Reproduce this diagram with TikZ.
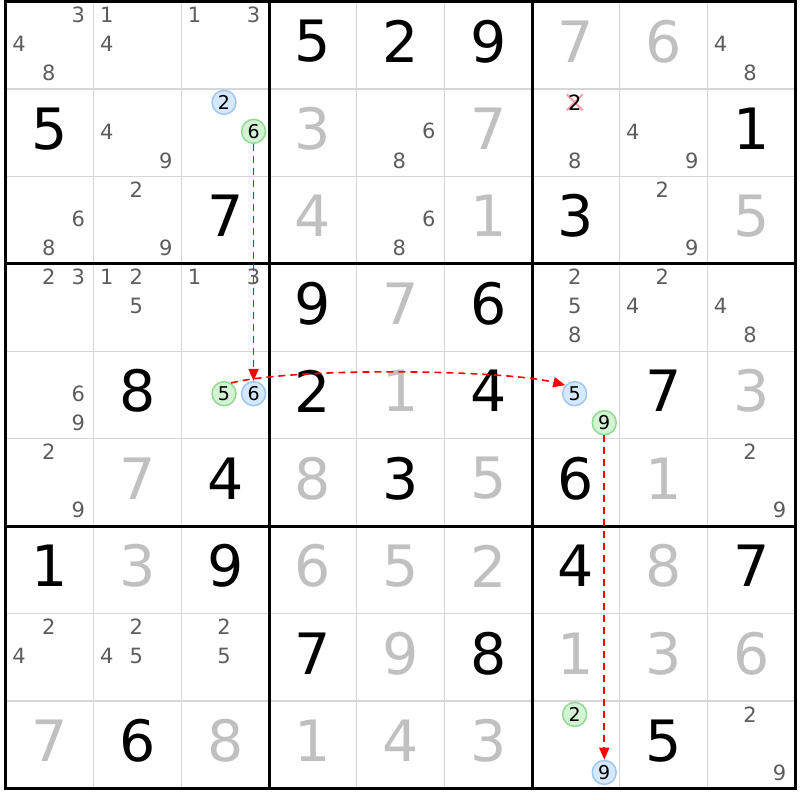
\documentclass[tikz,border=0pt]{standalone}
\usepackage{fontspec}
\setmainfont{DejaVu Sans}
\usetikzlibrary{arrows.meta,shapes.misc}
\definecolor{cellline}{HTML}{D6D6D6}
\definecolor{solvedgray}{HTML}{C0C0C0}
\definecolor{candgray}{HTML}{5C5C5C}
\definecolor{ringblue}{HTML}{9CC8F2}
\definecolor{fillblue}{HTML}{D6E8FC}
\definecolor{ringgreen}{HTML}{8FDB8F}
\definecolor{fillgreen}{HTML}{D4F2D4}
\definecolor{crossred}{HTML}{F4A3AB}
\begin{document}
\begin{tikzpicture}[x=87.67pt,y=87.44pt,
	given/.style={font=\fontsize{57}{57}\selectfont,text=black,inner sep=0pt},
	solved/.style={given,text=solvedgray},
	cand/.style={font=\fontsize{21}{21}\selectfont,text=candgray,inner sep=0pt},
	bluering/.style={circle,draw=ringblue,fill=fillblue,line width=1.5pt,minimum size=24pt,inner sep=0pt,font=\fontsize{19}{19}\selectfont},
	greenring/.style={bluering,draw=ringgreen,fill=fillgreen},
	crossmark/.style={cross out,draw=crossred,line width=2pt,minimum size=14pt,inner sep=0pt},
	chain/.style={red,line width=1.6pt,dash pattern=on 7pt off 5pt,-{Triangle[length=12pt,width=10pt]}}]
		\useasboundingbox (-0.0684,0.0172) rectangle (9.0567,-9.132);
		%cell lines
			\foreach \i in {1,...,8}{
				\draw[cellline,line width=1.5pt] (\i,0) -- (\i,-9);
				\draw[cellline,line width=1.5pt] (0,-\i) -- (9,-\i);
				}
		%box lines
			\foreach \i in {3,6}{
				\draw[line width=3pt] (\i,0) -- (\i,-9);
				\draw[line width=3pt] (0,-\i) -- (9,-\i);
				}
			\draw[line width=3pt] (0,0) rectangle (9,-9);
		% given digits
			\foreach \r/\c/\v in {0/3/5,0/4/2,0/5/9,1/0/5,1/8/1,2/2/7,2/6/3,3/3/9,3/5/6,4/1/8,4/3/2,4/5/4,4/7/7,
				5/2/4,5/4/3,5/6/6,6/0/1,6/2/9,6/6/4,6/8/7,7/3/7,7/5/8,8/1/6,8/7/5}{
				\node[given] (g\r\c) at (\c+.5,-\r-.455) {\v};
				}
		% solved digits
			\foreach \r/\c/\v in {0/6/7,0/7/6,1/3/3,1/5/7,2/3/4,2/5/1,2/8/5,3/4/7,4/4/1,4/8/3,5/1/7,5/3/8,5/5/5,5/7/1,
				6/1/3,6/3/6,6/4/5,6/5/2,6/7/8,7/4/9,7/6/1,7/7/3,7/8/6,8/0/7,8/2/8,8/3/1,8/4/4,8/5/3}{
				\node[solved] (s\r\c) at (\c+.5,-\r-.455) {\v};
				}
		% candidates
			\foreach \r/\c/\vs in {0/0/{3,4,8},0/1/{1,4},0/2/{1,3},0/8/{4,8},1/1/{4,9},1/4/{6,8},1/6/{8},1/7/{4,9},
				2/0/{6,8},2/1/{2,9},2/4/{6,8},2/7/{2,9},3/0/{2,3},3/1/{1,2,5},3/2/{1,3},3/6/{2,5,8},3/7/{2,4},3/8/{4,8},
				4/0/{6,9},5/0/{2,9},5/8/{2,9},7/0/{2,4},7/1/{2,4,5},7/2/{2,5},8/8/{2,9}}{
				\foreach \v in \vs{
					\pgfmathtruncatemacro\sc{mod(\v-1,3)}
					\pgfmathtruncatemacro\sr{div(\v-1,3)}
					\node[cand] (n\r\c\v) at (\c+.15+.337*\sc,-\r-.153-.332*\sr) {\v};
					}
				}
		% eliminated candidate
			\node[crossmark] (x162) at (6.487,-1.153) {};
			\node[cand,text=black] (n162) at (6.487,-1.153) {2};
		% chain candidates
			\foreach \r/\c/\v/\ring in {1/2/2/bluering,1/2/6/greenring,4/2/5/greenring,4/2/6/bluering,
				4/6/5/bluering,4/6/9/greenring,8/6/2/greenring,8/6/9/bluering}{
				\pgfmathtruncatemacro\sc{mod(\v-1,3)}
				\pgfmathtruncatemacro\sr{div(\v-1,3)}
				\node[\ring] (n\r\c\v) at (\c+.15+.337*\sc,-\r-.153-.332*\sr) {\v};
				}
		% links
			\draw[chain] (n126) -- (n426);
			\draw[chain] (n425.57) to[out=14,in=166,looseness=.5] (n465.138);
			\draw[chain] (n469) -- (n869);
	\end{tikzpicture}
\end{document}
